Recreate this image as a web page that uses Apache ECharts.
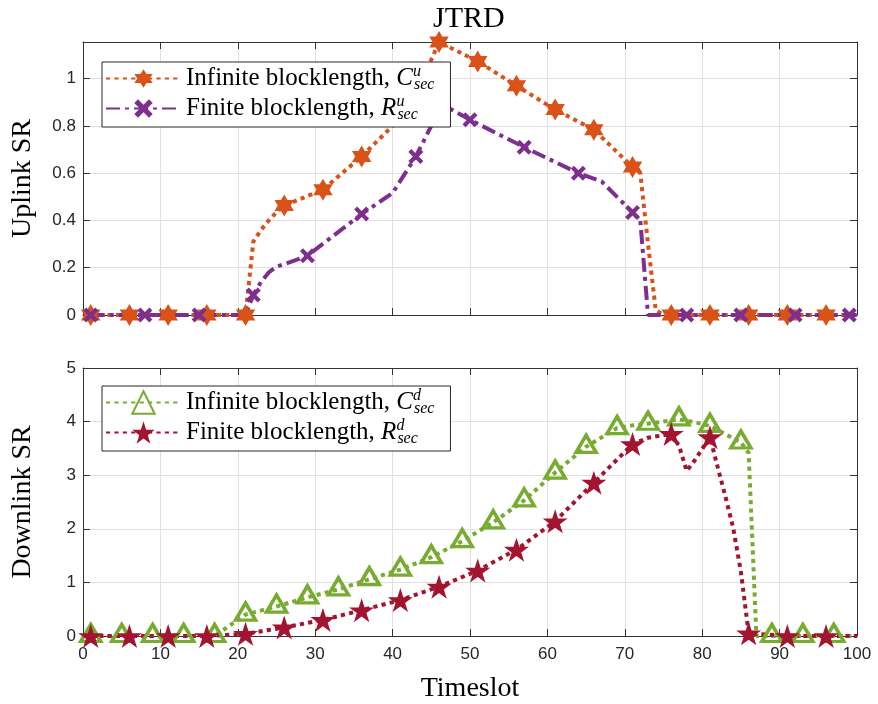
<!DOCTYPE html>
<html>
<head>
<meta charset="utf-8">
<script src="https://cdn.jsdelivr.net/npm/echarts@6/dist/echarts.min.js"></script>
<style>html,body{margin:0;padding:0;background:#fff;}#c{width:878px;height:704px;}</style>
</head>
<body>
<div id="c"></div>
<script>
// ---- data ----
const upInfX = [1,6,11,16,21,22,23,24,25,26,31,36,40,41,43,45,46,51,56,61,66,71,72,73,74,75,76,81,86,91,96,100];
const upInfY = [0,0,0,0,0,0.31,0.36,0.40,0.435,0.463,0.53,0.671,0.80,0.86,0.97,1.08,1.155,1.073,0.97,0.869,0.784,0.626,0.60,0.30,0.02,0,0,0,0,0,0,0];

const upFinX = [1,8,15,21,22,23,24,25,26,29,36,40,43,44,45,46,47,50,57,64,67,71,72,73,78,85,92,99,100];
const upFinY = [0,0,0,0,0.085,0.14,0.18,0.205,0.215,0.251,0.427,0.516,0.671,0.735,0.80,0.90,0.88,0.826,0.710,0.600,0.565,0.434,0.40,0,0,0,0,0,0];

const downInfX = [1,5,9,13,17,21,25,29,33,37,41,45,49,53,57,61,65,69,71,73,75,77,79,81,85,86,87,89,93,97,100];
const downInfY = [0,0,0,0,0,0.40,0.55,0.72,0.87,1.06,1.24,1.47,1.77,2.12,2.53,3.05,3.53,3.88,3.93,3.96,4.00,4.04,3.99,3.92,3.61,3.42,0,0,0,0,0];

const downFinX = [1,6,11,16,21,26,31,36,41,46,51,56,61,66,71,73,76,77,78,79,80,81,82,83,84,85,86,91,96,100];
const downFinY = [0,0,0,0,0.04,0.16,0.30,0.48,0.67,0.92,1.22,1.61,2.14,2.86,3.58,3.70,3.77,3.55,3.08,3.27,3.49,3.71,3.15,2.60,2.02,1.20,0.05,0,0,0];

const xTicks = [0,10,20,30,40,50,60,70,80,90,100];
const upTicks = [0,0.2,0.4,0.6,0.8,1];
const downTicks = [0,1,2,3,4,5];

const titleText = 'JTRD';
const upName = 'Uplink SR';
const downName = 'Downlink SR';
const xName = 'Timeslot';
const legendText = {
  infU: ['Infinite blocklength, ', 'C', 'u'],
  finU: ['Finite blocklength, ', 'R', 'u'],
  infD: ['Infinite blocklength, ', 'C', 'd'],
  finD: ['Finite blocklength, ', 'R', 'd']
};

// ---- styles ----
const serif = '"Liberation Serif", "Times New Roman", serif';
const sans = '"Liberation Sans", Arial, sans-serif';
const axisCol = '#333333';
const gridCol = '#e0e0e0';
const cOrange = '#D95319', cPurple = '#7E2F8E', cGreen = '#77AC30', cRed = '#A2142F';
const hexagram = 'path://M0,-10L2.887,-5L8.66,-5L5.774,0L8.66,5L2.887,5L0,10L-2.887,5L-8.66,5L-5.774,0L-8.66,-5L-2.887,-5Z';
const pentagram = 'path://M0,-10L2.245,-3.09L9.51,-3.09L3.633,1.18L5.878,8.09L0,3.82L-5.878,8.09L-3.633,1.18L-9.51,-3.09L-2.245,-3.09Z';
const xmark = 'path://M-10,-6L-6,-10L0,-4L6,-10L10,-6L4,0L10,6L6,10L0,4L-6,10L-10,6L-4,0Z';

function build(xs, ys, first, step) {
  return xs.map((x, i) => ((x - first) % step === 0) ? [x, ys[i]] : { value: [x, ys[i]], symbol: 'none' });
}

function xAx(grid, pos, primary, labels) {
  return {
    type: 'value', gridIndex: grid, position: pos, min: xTicks[0], max: xTicks[xTicks.length - 1],
    interval: xTicks[1] - xTicks[0],
    axisLine: { show: true, onZero: false, lineStyle: { color: axisCol, width: 1 } },
    axisTick: { show: true, inside: true, length: 7, lineStyle: { color: axisCol } },
    axisLabel: { show: labels, margin: 10, fontFamily: sans, fontSize: 17, color: '#262626' },
    splitLine: { show: primary, lineStyle: { color: gridCol, width: 1 } },
    name: labels ? xName : '', nameLocation: 'middle', nameGap: 39,
    nameTextStyle: { fontFamily: serif, fontSize: 28, color: '#000' }
  };
}
function yAx(grid, pos, primary, ticks, max, name) {
  return {
    type: 'value', gridIndex: grid, position: pos, min: ticks[0], max: max,
    interval: ticks[1] - ticks[0],
    axisLine: { show: true, onZero: false, lineStyle: { color: axisCol, width: 1 } },
    axisTick: { show: true, inside: true, length: 7, lineStyle: { color: axisCol } },
    axisLabel: { show: primary, margin: 7, fontFamily: sans, fontSize: 17, color: '#262626',
      showMaxLabel: max === ticks[ticks.length - 1],
      formatter: v => String(+v.toFixed(2)) },
    splitLine: { show: primary, lineStyle: { color: gridCol, width: 1 } },
    name: primary ? name : '', nameLocation: 'middle', nameGap: 46,
    nameTextStyle: { fontFamily: serif, fontSize: 28, color: '#000' }
  };
}

const rich = {
  t: { fontFamily: serif, fontSize: 25, lineHeight: 29, color: '#000' },
  m: { fontFamily: serif, fontSize: 25, fontStyle: 'italic', lineHeight: 29, color: '#000' },
  p: { fontFamily: serif, fontSize: 16, fontStyle: 'italic', lineHeight: 16, verticalAlign: 'top', width: 1, color: '#000' },
  s: { fontFamily: serif, fontSize: 16, fontStyle: 'italic', lineHeight: 14, verticalAlign: 'bottom', color: '#000' }
};
function legendFmt(name) {
  const l = legendText[name];
  return '{t|' + l[0] + '}{m|' + l[1] + '}{p|' + l[2] + '}{s|sec}';
}
function legend(names, top, itemH) {
  return {
    data: names, orient: 'vertical', left: 102, top: top,
    itemWidth: 75, itemHeight: itemH, itemGap: 1,
    padding: [2, 16, 4, 3], backgroundColor: '#fff', borderColor: '#262626', borderWidth: 1, borderRadius: 0,
    selectedMode: false, formatter: legendFmt, textStyle: { rich: rich }
  };
}

const option = {
  animation: false,
  backgroundColor: '#fff',
  title: { text: titleText, left: 433, top: 4, padding: 0,
    textStyle: { fontFamily: serif, fontSize: 30, fontWeight: 'normal', color: '#000' } },
  grid: [
    { left: 83, top: 42, width: 774, height: 273 },
    { left: 83, top: 368, width: 774, height: 273 }
  ],
  xAxis: [xAx(0, 'bottom', true, false), xAx(0, 'top', false, false), xAx(1, 'bottom', true, true), xAx(1, 'top', false, false)],
  yAxis: [yAx(0, 'left', true, upTicks, 1.155, upName), yAx(0, 'right', false, upTicks, 1.155, ''),
          yAx(1, 'left', true, downTicks, 5, downName), yAx(1, 'right', false, downTicks, 5, '')],
  legend: [legend(['infU', 'finU'], 62, 23), legend(['infD', 'finD'], 386, 28)],
  series: [
    { name: 'infU', type: 'line', xAxisIndex: 0, yAxisIndex: 0, data: build(upInfX, upInfY, 1, 5),
      symbol: hexagram, symbolSize: [19.5, 22], showAllSymbol: true,
      lineStyle: { color: cOrange, width: 4, type: [4.2, 4.2] }, itemStyle: { color: cOrange } },
    { name: 'finU', type: 'line', xAxisIndex: 0, yAxisIndex: 0, data: build(upFinX, upFinY, 1, 7),
      symbol: xmark, symbolSize: 15, showAllSymbol: true,
      lineStyle: { color: cPurple, width: 4, type: [14, 5, 4, 5] }, itemStyle: { color: cPurple } },
    { name: 'infD', type: 'line', xAxisIndex: 2, yAxisIndex: 2, data: build(downInfX, downInfY, 1, 4),
      symbol: 'triangle', symbolSize: [20, 17], symbolOffset: [0, -3], showAllSymbol: true,
      lineStyle: { color: cGreen, width: 4, type: [4.2, 4.2] },
      itemStyle: { color: 'rgba(255,255,255,0)', borderColor: cGreen, borderWidth: 3.5 } },
    { name: 'finD', type: 'line', xAxisIndex: 2, yAxisIndex: 2, data: build(downFinX, downFinY, 1, 5),
      symbol: pentagram, symbolSize: [25, 24], showAllSymbol: true,
      lineStyle: { color: cRed, width: 4, type: [4.2, 4.2] }, itemStyle: { color: cRed } }
  ]
};
const chart = echarts.init(document.getElementById('c'), null, { renderer: 'canvas' });
chart.setOption(option);
</script>
</body>
</html>
